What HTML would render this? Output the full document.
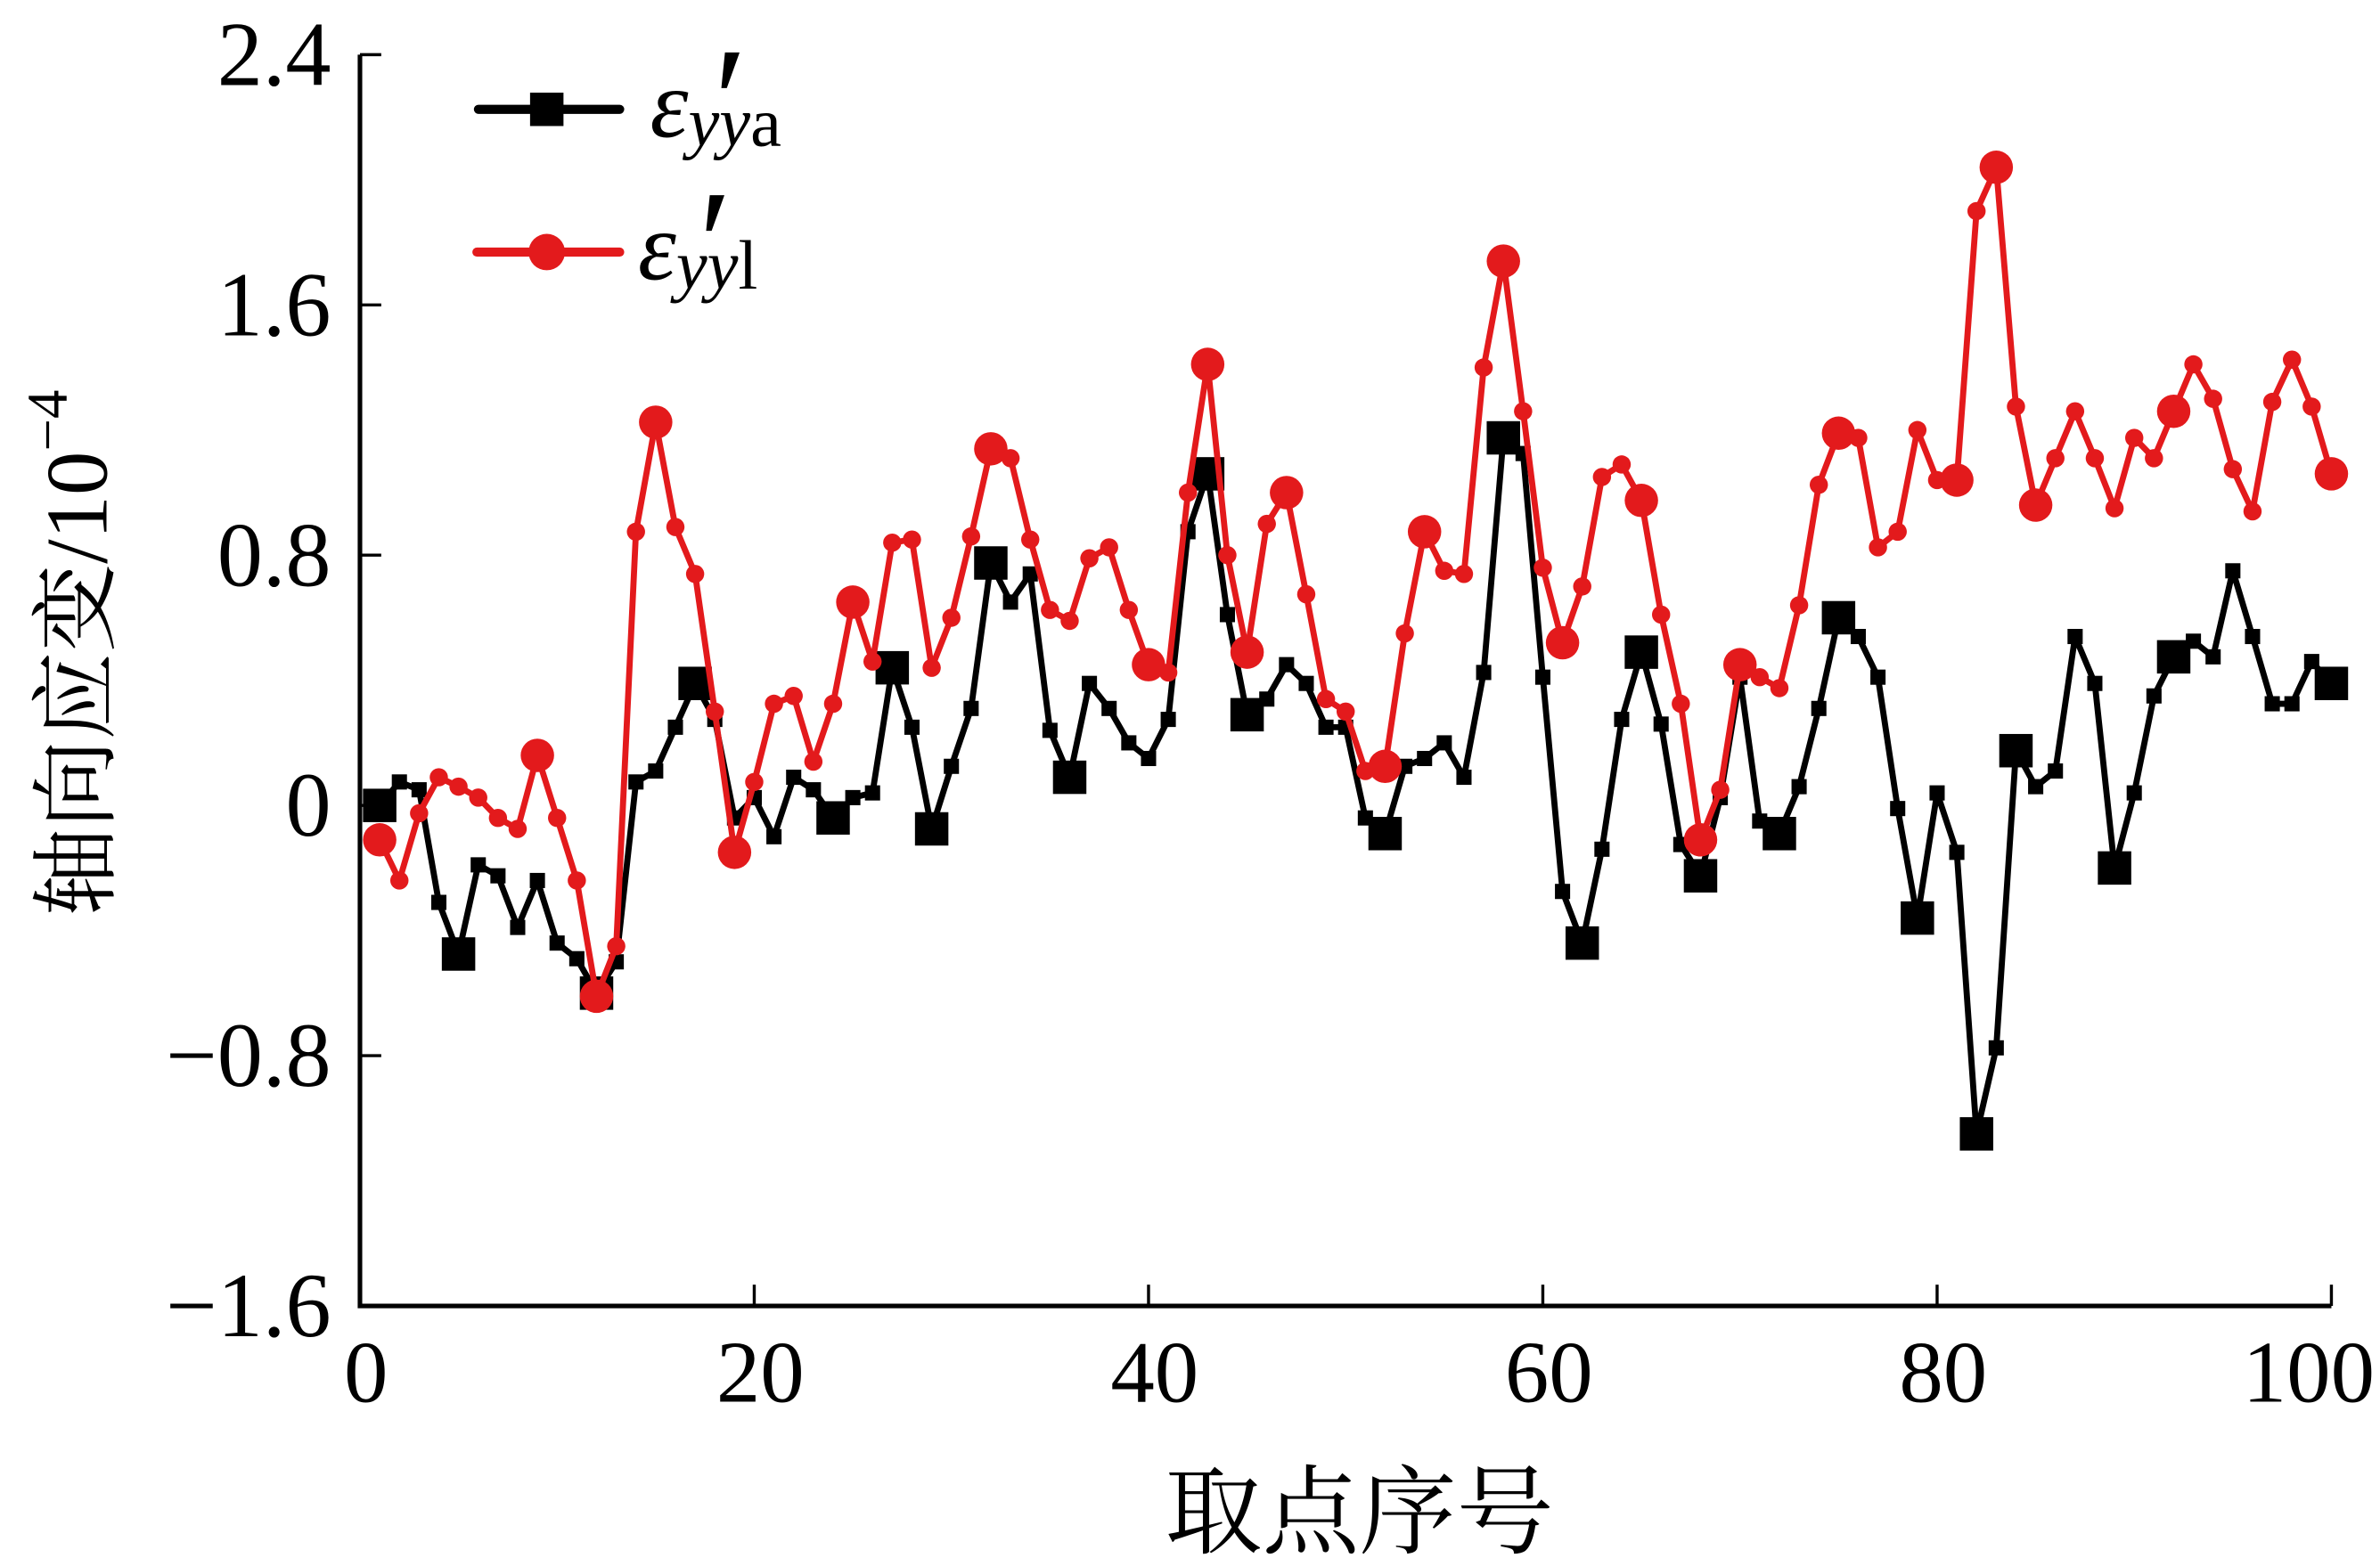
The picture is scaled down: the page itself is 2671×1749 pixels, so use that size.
<!DOCTYPE html>
<html><head><meta charset="utf-8"><style>
html,body{margin:0;padding:0;background:#fff;}
svg{display:block;}
text{font-family:"Liberation Serif","Noto Serif CJK SC",serif;fill:#000;}
</style></head><body>
<svg id="chart" width="2671" height="1749" viewBox="0 0 1567 1026" preserveAspectRatio="none" xmlns="http://www.w3.org/2000/svg">
<g id="axes"></g>
<g id="series"></g>
<g>
  <line x1="315" y1="72" x2="408" y2="72" stroke="#000" stroke-width="6" stroke-linecap="round"/>
  <rect x="349" y="61" width="22" height="22" fill="#000"/>
  <text x="428" y="90" font-size="64" font-style="italic">ε<tspan font-size="46" dy="6">yy</tspan><tspan font-size="46" font-style="normal">a</tspan></text>
  <text x="470" y="100" font-size="100">′</text>
  <line x1="314" y1="166" x2="408" y2="166" stroke="#e31a1c" stroke-width="6" stroke-linecap="round"/>
  <circle cx="360" cy="166" r="12" fill="#e31a1c"/>
  <text x="420" y="184" font-size="64" font-style="italic">ε<tspan font-size="46" dy="6">yy</tspan><tspan font-size="46" font-style="normal">l</tspan></text>
  <text x="460" y="194" font-size="100">′</text>
</g>
<text x="895" y="1018" font-size="64" text-anchor="middle">取点序号</text>
<text transform="translate(70,430) rotate(-90)" font-size="58" text-anchor="middle">轴向应变/10<tspan font-size="38" dy="-26">−4</tspan></text>
</svg>
<script>
const xTicks=[0,20,40,60,80,100];
const yTicks=[2.4,1.6,0.8,0,-0.8,-1.6];
const yTickLabels=["2.4","1.6","0.8","0","−0.8","−1.6"];
const seriesA=[0.0,0.075,0.05,-0.31,-0.475,-0.19,-0.225,-0.39,-0.24,-0.44,-0.49,-0.6,-0.5,0.075,0.11,0.25,0.39,0.275,-0.04,0.025,-0.1,0.09,0.05,-0.04,0.025,0.04,0.44,0.25,-0.075,0.125,0.31,0.775,0.65,0.74,0.24,0.09,0.39,0.31,0.2,0.15,0.275,0.875,1.06,0.61,0.29,0.34,0.45,0.39,0.25,0.25,-0.04,-0.09,0.125,0.15,0.2,0.09,0.425,1.175,1.125,0.41,-0.275,-0.44,-0.14,0.275,0.49,0.26,-0.125,-0.225,0.025,0.41,-0.05,-0.09,0.06,0.31,0.6,0.54,0.41,-0.01,-0.36,0.04,-0.15,-1.05,-0.775,0.175,0.06,0.11,0.54,0.39,-0.2,0.04,0.35,0.475,0.525,0.475,0.75,0.54,0.325,0.325,0.46,0.39];
const seriesL=[-0.11,-0.24,-0.025,0.09,0.06,0.025,-0.04,-0.075,0.16,-0.04,-0.24,-0.61,-0.45,0.875,1.225,0.89,0.74,0.3,-0.15,0.075,0.325,0.35,0.14,0.325,0.65,0.46,0.84,0.85,0.44,0.6,0.86,1.14,1.11,0.85,0.625,0.59,0.79,0.825,0.625,0.45,0.425,1.0,1.41,0.8,0.49,0.9,1.0,0.675,0.34,0.3,0.11,0.125,0.55,0.875,0.75,0.74,1.4,1.74,1.26,0.76,0.52,0.7,1.05,1.09,0.975,0.61,0.325,-0.11,0.05,0.45,0.41,0.375,0.64,1.025,1.19,1.175,0.825,0.875,1.2,1.04,1.04,1.9,2.04,1.275,0.96,1.11,1.26,1.11,0.95,1.175,1.11,1.26,1.41,1.3,1.075,0.94,1.29,1.425,1.275,1.06];
const bigA=[1,5,12,17,24,27,29,32,36,43,45,52,58,62,65,68,72,75,79,82,84,89,92,100];
const bigL=[1,9,12,15,19,25,32,40,43,45,47,52,54,58,61,65,68,70,75,81,83,85,92,100];
const NS="http://www.w3.org/2000/svg";
const X0=237,X1=1535,Y0=860,Y1=36,YMIN=-1.6,YMAX=2.4;
function sx(v){return X0+(v/100)*(X1-X0);}
function sy(v){return Y0-(v-YMIN)/(YMAX-YMIN)*(Y0-Y1);}
function mk(tag,attrs,parent){const e=document.createElementNS(NS,tag);for(const k in attrs)e.setAttribute(k,attrs[k]);parent.appendChild(e);return e;}
const axes=document.getElementById('axes');
let e=mk('path',{d:`M${X0},${Y1} L${X0},${Y0} L${X1},${Y0}`,fill:'none',stroke:'#000','stroke-width':3},axes);


xTicks.forEach(t=>{
  const l=mk('line',{x1:sx(t),x2:sx(t),y1:Y0,y2:Y0-14,stroke:'#000','stroke-width':2},axes);
  
  
  const tx=mk('text',{x:Math.min(sx(t)+4,1520),y:923,'font-size':58,'text-anchor':'middle'},axes);
  tx.textContent=String(t);
  
  
});
yTicks.forEach((t,i)=>{
  const l=mk('line',{x1:X0,x2:X0+14,y1:sy(t),y2:sy(t),stroke:'#000','stroke-width':2},axes);
  
  
  const tx=mk('text',{x:218,y:sy(t)+20,'font-size':60,'text-anchor':'end'},axes);
  tx.textContent=yTickLabels[i];
  
  
});
const sg=document.getElementById('series');
function draw(vals,color,shape,big,name){
  const pts=vals.map((v,i)=>sx(i+1)+','+sy(v)).join(' ');
  const pl=mk('polyline',{points:pts,fill:'none',stroke:color,'stroke-width':4,'stroke-linejoin':'round'},sg);
  
  
  vals.forEach((v,i)=>{
    const b=big.includes(i+1);
    let m;
    if(shape==='sq'){const s=b?22:10;m=mk('rect',{x:sx(i+1)-s/2,y:sy(v)-s/2,width:s,height:s,fill:color},sg);}
    else{m=mk('circle',{cx:sx(i+1),cy:sy(v),r:b?11:6,fill:color},sg);}
    
    
  });
}
draw(seriesA,'#000','sq',bigA,'series-a');
draw(seriesL,'#e31a1c','ci',bigL,'series-l');
</script>
</body></html>
